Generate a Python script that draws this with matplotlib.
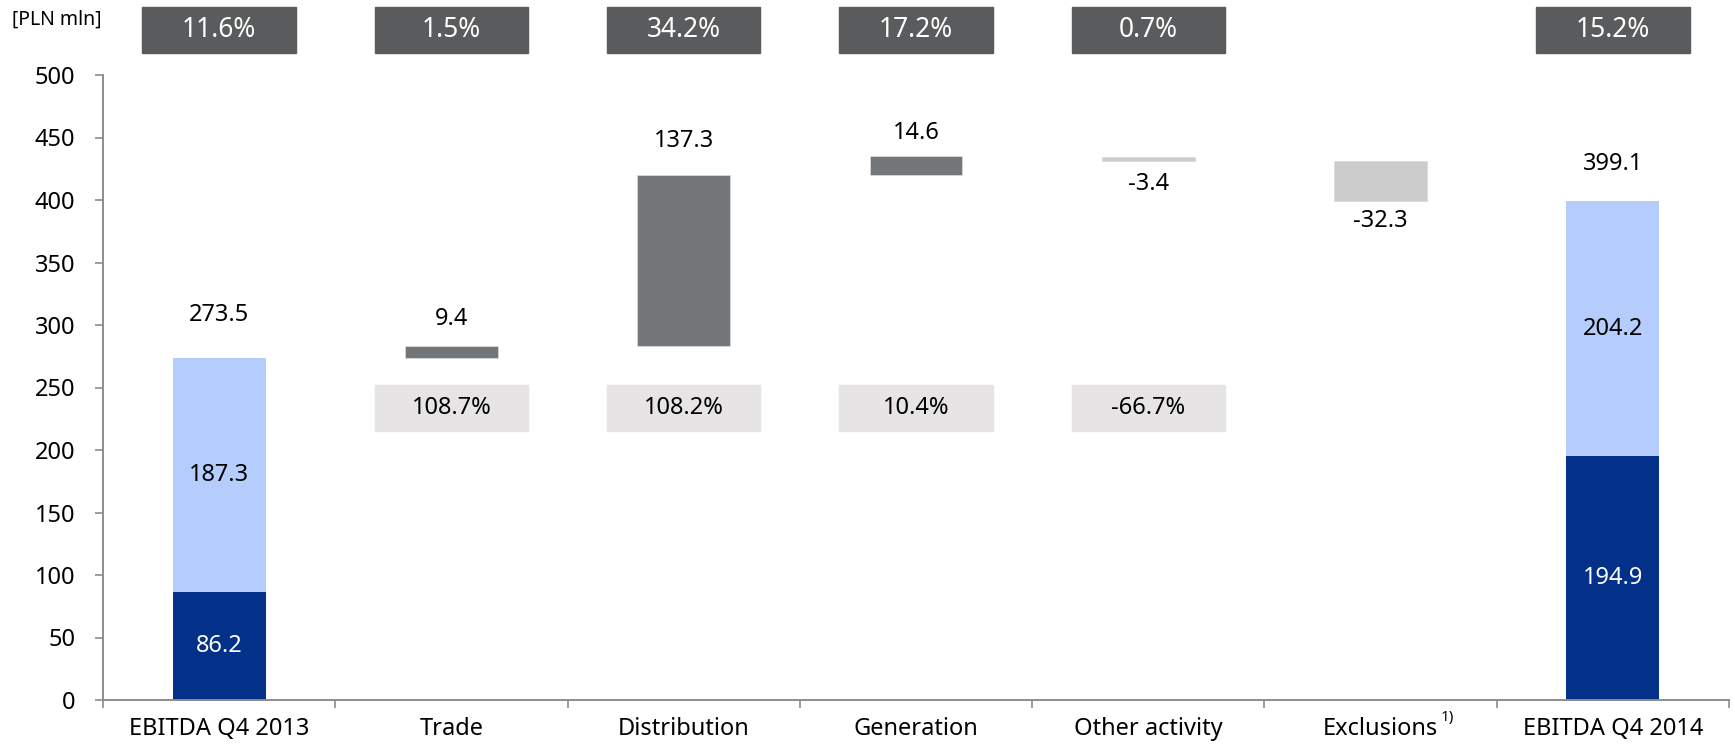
import matplotlib
matplotlib.use("Agg")
import matplotlib.pyplot as plt
import numpy as np

categories = ["EBITDA Q4 2013", "Trade", "Distribution", "Generation",
              "Other activity", "Exclusions", "EBITDA Q4 2014"]
# stacked totals (dark part, light part)
start_dark, start_light = 86.2, 187.3
end_dark, end_light = 194.9, 204.2
start_total, end_total = 273.5, 399.1
changes = [9.4, 137.3, 14.6, -3.4, -32.3]
share_labels = ["11.6%", "1.5%", "34.2%", "17.2%", "0.7%", None, "15.2%"]
growth_labels = [None, "108.7%", "108.2%", "10.4%", "-66.7%", None, None]

DARK = "#033189"
LIGHT = "#b4cdfc"
UP = "#737679"
DOWN = "#cbcccb"
SPINE = "#8c8c8c"

plt.rcParams["font.family"] = ["Noto Sans", "DejaVu Sans"]
fs = 17

fig = plt.figure(figsize=(17.35, 7.48), dpi=100)
ax = fig.add_axes([103 / 1735, 48 / 748, 1626 / 1735, 625 / 748])

x = np.arange(len(categories))
w = 0.4

# first and last stacked bars
ax.bar(x[0], start_dark, w, color=DARK)
ax.bar(x[0], start_light, w, bottom=start_dark, color=LIGHT)
ax.bar(x[-1], end_dark, w, color=DARK)
ax.bar(x[-1], end_light, w, bottom=end_dark, color=LIGHT)
ax.text(x[0], start_dark / 2, f"{start_dark:.1f}", ha="center", va="center", color="white", fontsize=fs)
ax.text(x[0], start_dark + start_light / 2, f"{start_light:.1f}", ha="center", va="center", fontsize=fs)
ax.text(x[-1], end_dark / 2, f"{end_dark:.1f}", ha="center", va="center", color="white", fontsize=fs)
ax.text(x[-1], end_dark + end_light / 2, f"{end_light:.1f}", ha="center", va="center", fontsize=fs)
ax.annotate(f"{start_total:.1f}", (x[0], start_total), xytext=(0, 31), textcoords="offset points",
            ha="center", va="center", fontsize=fs)
ax.annotate(f"{end_total:.1f}", (x[-1], end_total), xytext=(0, 27), textcoords="offset points",
            ha="center", va="center", fontsize=fs)

# floating change bars
label_pad = [20, 24, 17, 17, 14]
level = start_total
for i, ch in enumerate(changes):
    xi = x[i + 1]
    col = UP if ch > 0 else DOWN
    ax.bar(xi, ch, w, bottom=level, color=col, edgecolor="#d9dadb", linewidth=0.6)
    if ch > 0:
        ax.annotate(f"{ch:.1f}", (xi, level + ch), xytext=(0, label_pad[i]), textcoords="offset points",
                    ha="center", va="center", fontsize=fs)
    else:
        ax.annotate(f"{ch:.1f}", (xi, level + ch), xytext=(0, -label_pad[i]), textcoords="offset points",
                    ha="center", va="center", fontsize=fs)
    level += ch

# boxes with percentages
bw = 0.66
for i, s in enumerate(share_labels):
    if s is None:
        continue
    ax.add_patch(plt.Rectangle((x[i] - bw / 2, 517.6), bw, 36.8, color="#5a5b5d", clip_on=False))
    ax.text(x[i], 536, s, ha="center", va="center", color="white", fontsize=19, clip_on=False)
for i, s in enumerate(growth_labels):
    if s is None:
        continue
    ax.add_patch(plt.Rectangle((x[i] - bw / 2, 215), bw, 37, color="#e6e4e5", zorder=0))
    ax.text(x[i], 233.5, s, ha="center", va="center", fontsize=fs)

ax.set_xlim(-0.5, len(categories) - 0.5)
ax.set_ylim(0, 500)
ax.set_yticks(np.arange(0, 501, 50))
ax.set_xticks(np.arange(-0.5, len(categories), 1.0))
ax.set_xticklabels([])
ax.set_xticks(x, minor=True)
ax.set_xticklabels(categories, minor=True)
ax.tick_params(axis="x", which="minor", length=0, pad=12, labelsize=fs)
ax.tick_params(axis="x", which="major", length=6, color=SPINE, width=1.2)
ax.tick_params(axis="y", length=6, color=SPINE, width=1.2, pad=14, labelsize=fs)
for s in ["top", "right"]:
    ax.spines[s].set_visible(False)
for s in ["left", "bottom"]:
    ax.spines[s].set_color(SPINE)
    ax.spines[s].set_linewidth(1.4)

excl = ax.xaxis.get_minorticklabels()[5]
ax.annotate("1)", xy=(1, 1), xycoords=excl, xytext=(2, 5), textcoords="offset points",
            ha="left", va="top", fontsize=11)

fig.text(12 / 1735, 1 - 20 / 748, "[PLN mln]", ha="left", va="center", fontsize=14)

fig.savefig("out.png", dpi=100)
